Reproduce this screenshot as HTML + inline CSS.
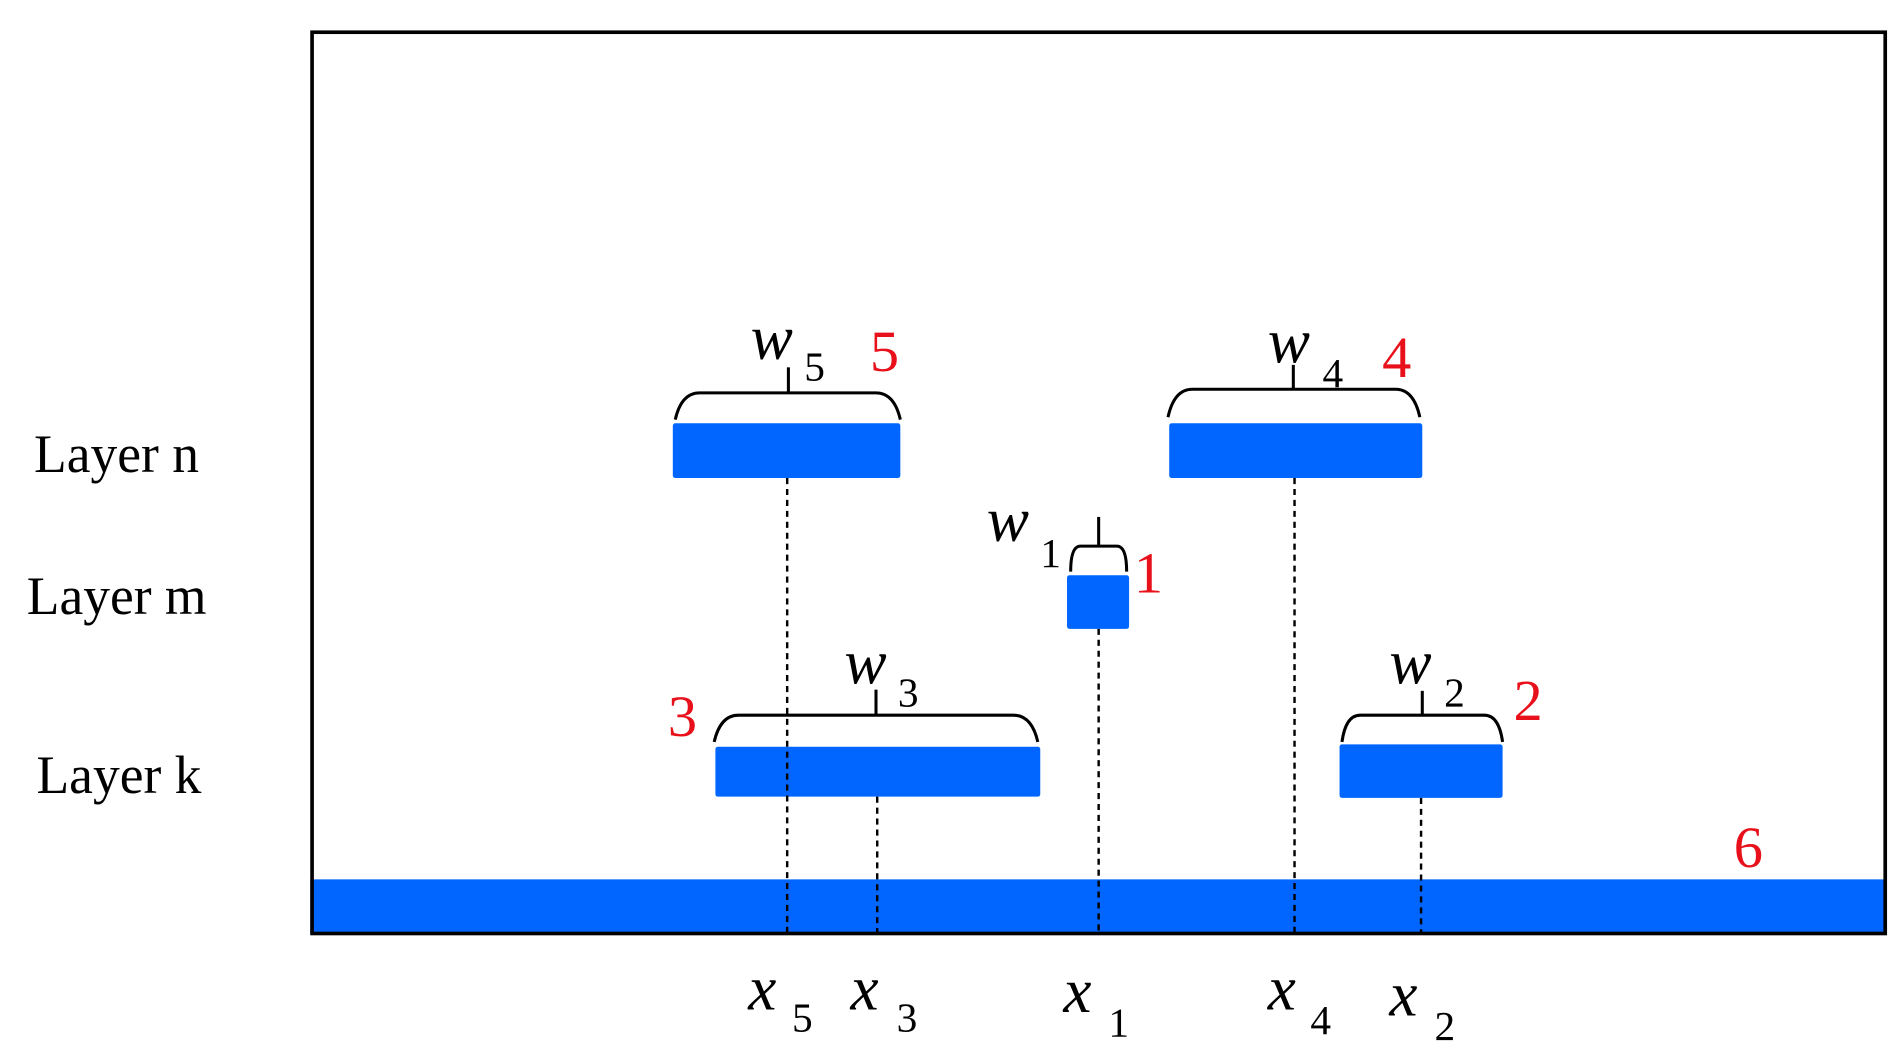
<!DOCTYPE html>
<html><head><meta charset="utf-8"><style>
html,body{margin:0;padding:0;background:#fff;}
svg{display:block;}
text{font-family:"Liberation Serif",serif;}
.w{font-style:italic;font-size:52px;fill:#000;}
.s{font-size:34px;fill:#000;}
.r{font-size:48px;fill:#e8101a;}
.l{font-size:44px;fill:#000;}
</style></head><body>
<svg width="1898" height="1046" viewBox="0 0 1560 860" preserveAspectRatio="none" xmlns="http://www.w3.org/2000/svg">
<rect x="0" y="0" width="1560" height="860" fill="#fff"/>
<rect x="255" y="723" width="1295" height="45" fill="#0066ff"/>
<rect x="256.5" y="26.5" width="1293" height="741" fill="none" stroke="#000" stroke-width="3"/>
<g fill="#0066ff">
<rect x="553" y="348" width="187" height="45" rx="2"/>
<rect x="961" y="348" width="208" height="45" rx="2"/>
<rect x="877" y="473" width="51" height="44" rx="2"/>
<rect x="588" y="614" width="267" height="41" rx="2"/>
<rect x="1101" y="612" width="134" height="44" rx="2"/>
</g>
<g stroke="#000" stroke-width="2" stroke-dasharray="5,4" fill="none">
<line x1="647" y1="393" x2="647" y2="768"/>
<line x1="721" y1="655" x2="721" y2="768"/>
<line x1="903" y1="517" x2="903" y2="768"/>
<line x1="1064" y1="393" x2="1064" y2="768"/>
<line x1="1168" y1="656" x2="1168" y2="768"/>
</g>
<g stroke="#000" stroke-width="2.5" fill="none">
<path d="M555 345 Q560 323 575 323 L720 323 Q735 323 740 345"/>
<line x1="648" y1="302" x2="648" y2="323"/>
<path d="M960 343 Q965 320 980 320 L1147 320 Q1162 320 1167 343"/>
<line x1="1063" y1="300" x2="1063" y2="320"/>
<path d="M880 470 Q880 449 888 449 L918 449 Q926 449 926 470"/>
<line x1="903" y1="425" x2="903" y2="449"/>
<path d="M587 610 Q592 588 607 588 L833 588 Q848 588 853 610"/>
<line x1="720" y1="567" x2="720" y2="588"/>
<path d="M1103 610 Q1106 588 1118 588 L1220 588 Q1232 588 1235 610"/>
<line x1="1169" y1="568" x2="1169" y2="588"/>
</g>
<text class="w" x="617" y="295">w</text><text class="s" x="661" y="313">5</text><text class="r" x="715" y="305">5</text>
<text class="w" x="1042" y="298">w</text><text class="s" x="1087" y="318">4</text><text class="r" x="1136" y="310">4</text>
<text class="w" x="811" y="445">w</text><text class="s" x="855" y="466">1</text><text class="r" x="932" y="487">1</text>
<text class="w" x="694" y="562">w</text><text class="s" x="738" y="581">3</text><text class="r" x="549" y="605">3</text>
<text class="w" x="1142" y="562">w</text><text class="s" x="1187" y="581">2</text><text class="r" x="1244" y="592">2</text>
<text class="r" x="1425" y="713">6</text>
<text class="w" x="615" y="830">x</text><text class="s" x="651" y="848">5</text>
<text class="w" x="699" y="830">x</text><text class="s" x="737" y="848">3</text>
<text class="w" x="874" y="832">x</text><text class="s" x="911" y="852">1</text>
<text class="w" x="1042" y="830">x</text><text class="s" x="1077" y="850">4</text>
<text class="w" x="1142" y="835">x</text><text class="s" x="1179" y="855">2</text>
<text class="l" x="28" y="388">Layer n</text>
<text class="l" x="22" y="505">Layer m</text>
<text class="l" x="30" y="652">Layer k</text>
</svg>
</body></html>
